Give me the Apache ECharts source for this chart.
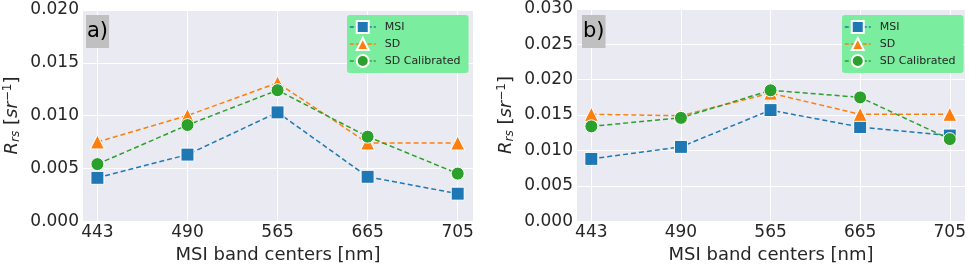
<!DOCTYPE html>
<html><head><meta charset="utf-8">
<script src="https://cdn.jsdelivr.net/npm/echarts@6/dist/echarts.min.js"></script>
<style>html,body{margin:0;padding:0;background:#fff}#c{width:969px;height:269px}</style>
</head><body><div id="c"></div>
<script>
var categories = ['443', '490', '565', '665', '705'];
var seriesNames = ['MSI', 'SD', 'SD Calibrated'];
var msiA = [0.0041, 0.0063, 0.0103, 0.0042, 0.0026];
var sdA = [0.0075, 0.0100, 0.0131, 0.0074, 0.0074];
var sdCalA = [0.0054, 0.0091, 0.0124, 0.0080, 0.0045];
var msiB = [0.0088, 0.0105, 0.0157, 0.0133, 0.0121];
var sdB = [0.0151, 0.0149, 0.0181, 0.0151, 0.0151];
var sdCalB = [0.0134, 0.0146, 0.0185, 0.0175, 0.0116];
var yTicksA = [0, 0.005, 0.010, 0.015, 0.020];
var yTicksB = [0, 0.005, 0.010, 0.015, 0.020, 0.025, 0.030];
var panelLabels = ['a)', 'b)'];
var xTitle = 'MSI band centers [nm]';

var FONT = 'DejaVu Sans';
var TXT = '#262626';
var colors = ['#1f77b4', '#ff7f0e', '#2ca02c'];
var symbols = ['rect', 'triangle', 'circle'];
var idx = categories.map(function (c, i) { return i; });

function pts(arr) { return arr.map(function (v, i) { return [i, v]; }); }

function xAxis(gi) {
  return {
    type: 'value', gridIndex: gi, min: -0.16, max: 4.17,
    axisLine: { show: false }, axisTick: { show: false, customValues: idx },
    axisLabel: { customValues: idx, color: TXT, fontFamily: FONT, fontSize: 17, margin: 3,
      formatter: function (v) { return categories[Math.round(v)]; } },
    splitLine: { show: true, lineStyle: { color: '#ffffff', width: 1 } },
    name: xTitle, nameLocation: 'middle', nameGap: 19,
    nameTextStyle: { color: TXT, fontFamily: FONT, fontSize: 18 }
  };
}
function yAxis(gi, ticks) {
  return {
    type: 'value', gridIndex: gi, min: ticks[0], max: ticks[ticks.length - 1], interval: 0.005,
    axisLine: { show: false }, axisTick: { show: false },
    axisLabel: { color: TXT, fontFamily: FONT, fontSize: 17, margin: 4,
      formatter: function (v) { return v.toFixed(3); } },
    splitLine: { show: true, lineStyle: { color: '#ffffff', width: 1 } },
    name: '{r|R}{sub|rs}{n| [}{r|sr}{sup|−1}{n|]}',
    nameLocation: 'middle', nameRotate: 90, nameGap: 61,
    nameTextStyle: {
      color: TXT, fontFamily: FONT,
      rich: {
        r: { fontSize: 18, fontStyle: 'italic', fontFamily: FONT, color: TXT },
        n: { fontSize: 18, fontFamily: FONT, color: TXT },
        sub: { fontSize: 12, fontStyle: 'italic', fontFamily: FONT, color: TXT, verticalAlign: 'bottom', padding: [6, 0, 0, 0] },
        sup: { fontSize: 12, fontFamily: FONT, color: TXT, verticalAlign: 'top', padding: [0, 0, 8, 0] }
      }
    }
  };
}
function mk(name, data, k, gi) {
  return {
    name: name, type: 'line', xAxisIndex: gi, yAxisIndex: gi, data: pts(data),
    symbol: symbols[k], symbolSize: k === 1 ? 14 : 13,
    lineStyle: { color: colors[k], width: 1.5, type: [5, 3] },
    itemStyle: { color: colors[k], borderColor: '#ffffff', borderWidth: 1 },
    z: 3 + k
  };
}
function legend(gi, left) {
  return {
    data: seriesNames, orient: 'vertical', left: left, top: 15,
    backgroundColor: '#7aed9e', borderRadius: 3, padding: [5, 8, 5, 2], itemGap: 3,
    itemWidth: 26, itemHeight: 15,
    lineStyle: { type: [4, 2], width: 1.5 },
    textStyle: { fontFamily: FONT, fontSize: 11, color: TXT, padding: [0, 0, 0, 4] },
    seriesIndex: gi === 0 ? [0, 1, 2] : [3, 4, 5]
  };
}

var chart = echarts.init(document.getElementById('c'), null, { renderer: 'canvas' });
chart.setOption({
  animation: false,
  backgroundColor: '#ffffff',
  title: [
    { text: panelLabels[0], left: 86, top: 15, backgroundColor: '#c0c0c0', padding: [4, 1, 4, 1],
      textStyle: { fontFamily: FONT, fontSize: 21, fontWeight: 'normal', color: '#000', lineHeight: 25 } },
    { text: panelLabels[1], left: 582, top: 15, backgroundColor: '#c0c0c0', padding: [4, 1, 4, 1],
      textStyle: { fontFamily: FONT, fontSize: 21, fontWeight: 'normal', color: '#000', lineHeight: 25 } }
  ],
  legend: [legend(0, 347), legend(1, 842)],
  grid: [
    { left: 83, right: 496, top: 10, bottom: 40, show: true, backgroundColor: '#eaeaf2', borderWidth: 0 },
    { left: 577, right: 4, top: 9, bottom: 40, show: true, backgroundColor: '#eaeaf2', borderWidth: 0 }
  ],
  xAxis: [xAxis(0), xAxis(1)],
  yAxis: [yAxis(0, yTicksA), yAxis(1, yTicksB)],
  series: [
    mk(seriesNames[0], msiA, 0, 0), mk(seriesNames[1], sdA, 1, 0), mk(seriesNames[2], sdCalA, 2, 0),
    mk(seriesNames[0], msiB, 0, 1), mk(seriesNames[1], sdB, 1, 1), mk(seriesNames[2], sdCalB, 2, 1)
  ]
});
</script></body></html>
